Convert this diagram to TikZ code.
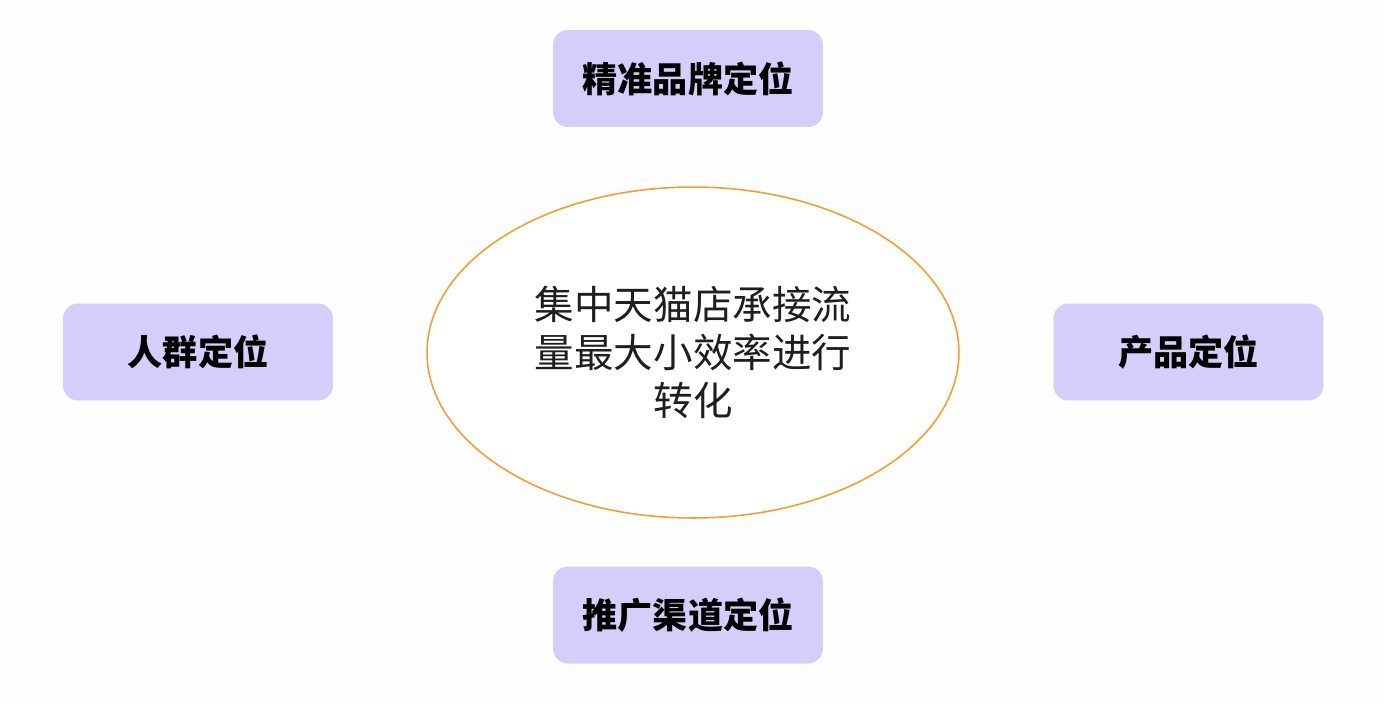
\documentclass[tikz,border=0pt]{standalone}
\usepackage{fontspec}
\newfontfamily\cjk{Noto Sans CJK SC}
\usetikzlibrary{shapes.geometric}
\definecolor{boxfill}{RGB}{211,206,250}
\definecolor{ellline}{RGB}{240,160,50}
\definecolor{bgc}{RGB}{253,253,253}
\tikzset{
  px/.style={x=0.02cm,y=-0.02cm},
  dimbox/.style={rectangle, rounded corners=0.3cm, fill=boxfill, draw=none,
    minimum width=5.4cm, minimum height=1.94cm, inner sep=0pt,
    font=\cjk\bfseries\fontsize{20}{24}\selectfont, text=black},
  core/.style={ellipse, draw=ellline, line width=0.9pt, fill=white,
    minimum width=10.64cm, minimum height=6.62cm, inner sep=0pt,
    align=center, font=\cjk\fontsize{22.5}{27.5}\selectfont, text={rgb,255:red,30;green,30;blue,30}}
}
\begin{document}
\begin{tikzpicture}[px]
\fill[bgc] (0,0) rectangle (1384,704);
\useasboundingbox (0,0) rectangle (1384,704);
\node[core] (c) at (693,352.5) {集中天猫店承接流\\量最大小效率进行\\转化};
\node[dimbox] (top) at (688,78.5) {精准品牌定位};
\node[dimbox] (left) at (198,352) {人群定位};
\node[dimbox] (right) at (1188.5,352) {产品定位};
\node[dimbox] (bottom) at (688,615) {推广渠道定位};
\end{tikzpicture}
\end{document}
